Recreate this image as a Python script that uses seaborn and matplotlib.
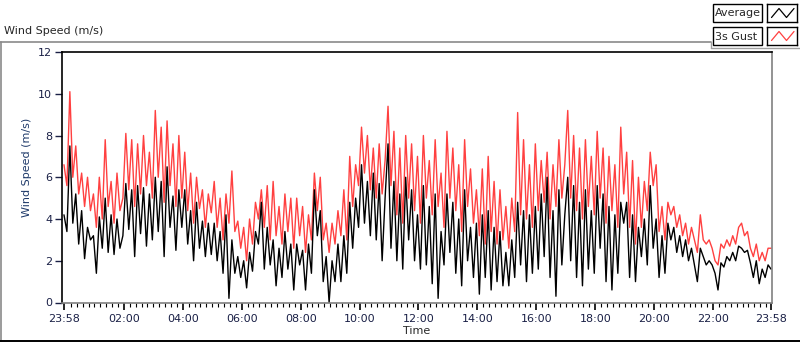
import numpy as np
import pandas as pd
import matplotlib
matplotlib.use("Agg")
import matplotlib.pyplot as plt
import seaborn as sns
from matplotlib.lines import Line2D
from matplotlib.patches import Rectangle

# wind speed readings every 6 minutes, 23:58 -> 23:58
gust = [
    6.6, 5.6, 10.1, 6.0, 7.5, 5.2, 6.2, 4.6, 6.0, 4.4,
    5.2, 3.6, 6.0, 4.0, 7.8, 4.6, 5.8, 3.8, 6.2, 4.4,
    5.0, 8.1, 5.4, 7.8, 4.6, 7.6, 5.2, 8.0, 5.6, 7.2,
    5.0, 9.2, 6.0, 8.4, 4.8, 8.7, 5.6, 7.6, 4.6, 8.0,
    5.0, 7.2, 4.4, 6.2, 3.8, 6.0, 4.5, 5.4, 3.6, 5.2,
    4.3, 5.8, 3.6, 5.0, 3.0, 5.2, 3.8, 6.3, 3.4, 3.9,
    2.6, 3.6, 2.0, 4.0, 2.8, 4.8, 4.0, 5.4, 3.6, 5.6,
    3.0, 5.8, 3.2, 4.6, 2.8, 5.2, 3.4, 5.0, 2.6, 5.0,
    3.2, 4.6, 2.4, 4.2, 3.0, 6.2, 4.4, 6.0, 3.0, 3.8,
    2.4, 3.8, 2.8, 4.4, 3.2, 5.4, 3.0, 7.0, 4.6, 6.6,
    5.6, 8.4, 6.2, 8.0, 5.4, 7.4, 5.0, 7.6, 5.2, 6.8,
    9.4, 5.6, 8.2, 4.2, 7.4, 3.8, 8.0, 5.0, 7.6, 4.4,
    7.0, 3.8, 8.0, 5.0, 6.8, 4.2, 7.8, 4.6, 6.2, 3.6,
    8.2, 5.0, 7.4, 4.4, 6.6, 3.4, 7.8, 4.6, 6.4, 3.8,
    5.4, 3.2, 6.4, 2.8, 7.0, 3.4, 5.8, 2.8, 5.4, 3.0,
    4.6, 2.6, 5.0, 3.4, 9.1, 4.2, 7.8, 4.0, 6.6, 3.6,
    7.6, 4.4, 6.8, 4.8, 7.2, 4.0, 6.6, 4.6, 7.8, 5.0,
    6.6, 9.2, 5.0, 8.0, 4.4, 7.4, 4.0, 7.8, 4.6, 7.0,
    4.2, 8.2, 5.0, 7.4, 3.8, 7.0, 4.4, 6.6, 3.6, 8.4,
    5.2, 7.2, 3.6, 6.8, 2.8, 6.0, 3.6, 5.8, 4.4, 7.2,
    5.6, 6.6, 3.4, 4.6, 3.0, 4.8, 4.2, 4.6, 3.6, 4.2,
    3.2, 3.8, 2.8, 3.6, 3.0, 2.4, 4.2, 3.0, 2.8, 3.0,
    2.6, 2.0, 1.8, 2.8, 2.6, 3.0, 2.7, 3.2, 2.8, 3.6,
    3.8, 3.2, 3.4, 2.6, 2.2, 2.8, 2.0, 2.4, 2.0, 2.6,
    2.6,
]
average = [
    4.2, 3.4, 7.5, 3.8, 5.2, 2.8, 4.4, 2.1, 3.6, 3.0,
    3.2, 1.4, 4.1, 2.6, 5.0, 2.4, 4.2, 2.3, 4.0, 2.6,
    3.2, 5.7, 3.5, 5.4, 2.2, 5.6, 3.3, 5.5, 2.7, 5.2,
    3.0, 6.0, 3.4, 5.8, 2.2, 6.5, 3.6, 5.1, 2.5, 5.4,
    3.6, 5.4, 2.8, 4.4, 2.0, 4.8, 2.6, 3.9, 2.2, 3.8,
    2.3, 3.8, 2.0, 3.4, 1.4, 4.2, 0.2, 3.0, 1.4, 2.2,
    1.2, 2.0, 0.7, 2.4, 1.5, 3.4, 2.8, 4.8, 1.6, 3.6,
    1.8, 3.0, 0.8, 2.6, 1.2, 3.4, 1.6, 2.8, 0.6, 2.8,
    1.8, 2.5, 0.6, 2.8, 1.4, 5.4, 3.2, 4.4, 1.0, 2.2,
    0.0, 2.0, 1.0, 2.8, 1.0, 3.2, 1.4, 4.8, 2.6, 5.0,
    3.6, 6.6, 3.8, 5.8, 3.2, 6.2, 3.0, 5.7, 2.0, 5.0,
    7.6, 2.6, 5.8, 2.0, 5.2, 1.6, 6.0, 3.0, 5.4, 2.0,
    4.2, 1.6, 5.6, 1.8, 4.6, 0.9, 5.2, 0.2, 3.4, 1.8,
    5.2, 2.4, 4.8, 1.4, 4.0, 0.8, 5.4, 2.0, 3.6, 1.2,
    3.8, 0.4, 4.2, 1.2, 4.4, 0.6, 3.6, 1.0, 3.4, 0.8,
    2.4, 0.8, 3.0, 1.2, 4.8, 1.8, 4.4, 1.0, 4.2, 1.4,
    4.6, 1.6, 5.2, 2.2, 6.0, 1.2, 4.4, 0.3, 5.4, 1.8,
    4.2, 6.0, 2.0, 5.6, 1.2, 4.8, 0.8, 5.4, 1.6, 4.4,
    1.4, 5.6, 2.6, 5.2, 1.0, 4.6, 0.6, 4.2, 1.4, 4.8,
    3.8, 4.8, 1.2, 4.2, 1.0, 3.6, 2.2, 4.0, 1.8, 5.6,
    2.6, 4.0, 1.2, 3.2, 1.4, 3.8, 3.0, 3.6, 2.4, 3.2,
    2.2, 3.0, 2.0, 2.6, 1.8, 1.0, 2.6, 2.2, 1.8, 2.0,
    1.8, 1.4, 0.6, 1.9, 1.7, 2.2, 2.0, 2.4, 2.0, 2.7,
    2.6, 2.4, 2.5, 1.9, 1.2, 2.0, 0.9, 1.6, 1.2, 1.8,
    1.6,
]
minutes = np.arange(len(gust)) * 6  # minutes after 23:58

tick_labels = ["23:58", "02:00", "04:00", "06:00", "08:00", "10:00", "12:00",
               "14:00", "16:00", "18:00", "20:00", "22:00", "23:58"]
tick_pos = [0] + [2 + 120 * k for k in range(1, 12)] + [1440]

df = pd.DataFrame({"minutes": minutes, "Average": average, "3s Gust": gust})

sns.set_style("white")
plt.rcParams["font.family"] = ["DejaVu Sans"]
plt.rcParams["font.size"] = 8

navy = "#1a2046"
fig = plt.figure(figsize=(8, 3.42), dpi=100)
ax = fig.add_axes([62 / 800, 1 - 302.5 / 342, 710 / 800, 250.5 / 342])

sns.lineplot(data=df, x="minutes", y="3s Gust", color="#ff4040", lw=1, ax=ax)
sns.lineplot(data=df, x="minutes", y="Average", color="black", lw=1, ax=ax)

ax.set_xlim(-4, 1442)
ax.set_ylim(0, 12)
ax.set_yticks(range(0, 13, 2))
ax.set_xticks(tick_pos)
ax.set_xticklabels(tick_labels, color=navy)
ax.set_xticks([2 + 12 * k for k in range(1, 120) if k % 10 != 0], minor=True)
ax.tick_params(axis="y", colors=navy, length=5, width=1, direction="out", left=True, pad=2)
ax.tick_params(axis="x", which="major", colors="black", labelcolor=navy, length=5,
               width=1.2, direction="out", bottom=True, pad=3)
ax.tick_params(axis="x", which="minor", colors="black", length=3, width=0.8,
               direction="out", bottom=True)
ax.set_xlabel("Time", fontsize=8, labelpad=2)
ax.set_ylabel("Wind Speed (m/s)", fontsize=8, color="#1f3a6a")
ax.yaxis.set_label_coords(-0.042, 0.54)

for side in ["left", "top"]:
    ax.spines[side].set_color("black")
    ax.spines[side].set_linewidth(1.2)
for side in ["right", "bottom"]:
    ax.spines[side].set_color("#808080")
    ax.spines[side].set_linewidth(1.2)

# outer panel frame
fig.add_artist(Line2D([0, 711 / 800], [1 - 42 / 342] * 2, color="#8a8a8a", lw=1.2))
fig.add_artist(Line2D([0.5 / 800] * 2, [0, 1 - 42 / 342], color="#8a8a8a", lw=1.2))
fig.add_artist(Line2D([0, 1], [0.8 / 342] * 2, color="black", lw=1.4))
fig.text(4 / 800, 1 - 31 / 342, "Wind Speed (m/s)", fontsize=8, va="center", ha="left")

# legend panel
fig.add_artist(Line2D([711 / 800] * 2, [1 - 47.5 / 342, 1 - 42 / 342], color="#a0a0a0", lw=1))
fig.add_artist(Line2D([711 / 800, 1], [1 - 47.5 / 342] * 2, color="#a0a0a0", lw=1))
for row, (name, col) in enumerate([("Average", "black"), ("3s Gust", "#ff4040")]):
    y0 = 4 + row * 23
    fig.add_artist(Rectangle((713 / 800, 1 - (y0 + 18) / 342), 49 / 800, 18 / 342,
                             transform=fig.transFigure, fill=False, ec="black", lw=1))
    fig.text(715 / 800, 1 - (y0 + 9.5) / 342, name, fontsize=8, va="center", ha="left")
    sw = fig.add_axes([767 / 800, 1 - (y0 + 18) / 342, 30 / 800, 18 / 342])
    sw.plot([0, 1, 2, 3], [0, 1, 0, 1], color=col, lw=0.9)
    sw.set_xlim(-0.6, 3.4)
    sw.set_ylim(-0.5, 1.5)
    sw.set_xticks([])
    sw.set_yticks([])
    for s in sw.spines.values():
        s.set_color("black")
        s.set_linewidth(1)

fig.savefig("out.png", dpi=100)
